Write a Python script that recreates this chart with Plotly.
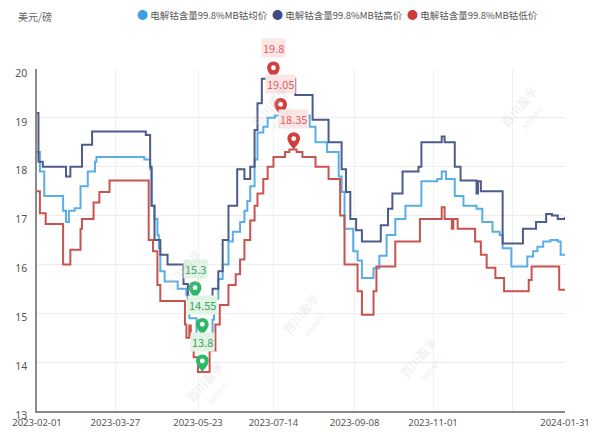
import plotly.graph_objects as go

# Electrolytic cobalt 99.8% MB price, USD/lb (step series: change dates and new values)
HIGH_DATES = ["2023-02-01", "2023-02-02", "2023-02-05", "2023-02-21", "2023-02-24", "2023-03-04",
              "2023-03-11", "2023-04-17", "2023-04-20", "2023-04-21", "2023-04-23", "2023-04-27",
              "2023-05-02", "2023-05-13", "2023-05-16", "2023-06-02", "2023-06-06", "2023-06-09",
              "2023-06-13", "2023-06-19", "2023-06-24", "2023-06-28", "2023-07-01", "2023-07-03",
              "2023-07-06", "2023-07-29", "2023-08-10", "2023-08-21", "2023-08-30", "2023-09-02",
              "2023-09-05", "2023-09-09", "2023-09-13", "2023-09-26", "2023-10-01", "2023-10-04",
              "2023-10-11", "2023-10-22", "2023-10-24", "2023-11-07", "2023-11-09", "2023-11-16",
              "2023-11-20", "2023-12-01", "2023-12-02", "2023-12-04", "2023-12-19", "2024-01-02",
              "2024-01-11", "2024-01-18", "2024-01-22", "2024-01-26", "2024-01-31"]
HIGH_VALUES = [19.1, 18.1, 18.0, 17.8, 18.0, 18.45,
               18.72, 18.65, 18.0, 17.2, 16.5, 16.2,
               16.0, 15.6, 15.3, 15.5, 15.86, 16.5,
               17.2, 17.95, 17.75, 18.0, 18.75, 19.3,
               19.8, 19.47, 18.96, 18.5, 17.95, 17.48,
               16.93, 16.7, 16.47, 16.8, 17.14, 17.45,
               17.9, 18.0, 18.5, 18.62, 18.5, 18.0,
               17.72, 17.45, 17.7, 17.5, 16.43, 16.73,
               16.87, 17.03, 17.0, 16.93, 16.97]

MEAN_DATES = ["2023-02-01", "2023-02-03", "2023-02-06", "2023-02-19", "2023-02-21", "2023-02-23",
              "2023-02-27", "2023-03-03", "2023-03-08", "2023-03-13", "2023-03-14", "2023-04-16",
              "2023-04-20", "2023-04-21", "2023-04-23", "2023-04-25", "2023-04-26", "2023-04-27",
              "2023-04-30", "2023-05-09", "2023-05-15", "2023-05-17", "2023-05-22", "2023-06-02",
              "2023-06-03", "2023-06-04", "2023-06-06", "2023-06-09", "2023-06-13", "2023-06-16",
              "2023-06-21", "2023-06-24", "2023-06-26", "2023-06-28", "2023-07-01", "2023-07-03",
              "2023-07-07", "2023-07-10", "2023-07-15", "2023-08-08", "2023-08-12", "2023-08-20",
              "2023-08-28", "2023-08-30", "2023-09-01", "2023-09-07", "2023-09-10", "2023-09-13",
              "2023-09-21", "2023-09-25", "2023-09-30", "2023-10-06", "2023-10-13", "2023-10-24",
              "2023-11-04", "2023-11-07", "2023-11-10", "2023-11-16", "2023-11-22", "2023-12-01",
              "2023-12-05", "2023-12-12", "2023-12-17", "2023-12-19", "2023-12-25", "2024-01-05",
              "2024-01-09", "2024-01-12", "2024-01-16", "2024-01-21", "2024-01-26", "2024-01-28",
              "2024-01-31"]
MEAN_VALUES = [18.3, 17.9, 17.4, 17.1, 16.87, 17.1,
               17.15, 17.6, 17.9, 18.1, 18.2, 18.15,
               17.95, 17.2, 16.93, 16.6, 16.33, 15.86,
               15.65, 15.5, 15.37, 14.9, 14.55, 14.87,
               15.0, 15.3, 15.7, 16.0, 16.47, 16.67,
               16.87, 17.1, 17.3, 17.6, 18.15, 18.7,
               18.82, 19.0, 19.05, 18.82, 18.5, 18.3,
               17.8, 17.48, 16.73, 16.27, 16.08, 15.72,
               15.92, 16.18, 16.6, 16.93, 17.2, 17.7,
               17.75, 17.9, 17.75, 17.4, 17.2, 17.14,
               16.87, 16.67, 16.6, 16.33, 15.96, 16.16,
               16.27, 16.36, 16.47, 16.5, 16.47, 16.2,
               16.2]

LOW_DATES = ["2023-02-01", "2023-02-03", "2023-02-07", "2023-02-19", "2023-02-24", "2023-03-03",
             "2023-03-04", "2023-03-12", "2023-03-16", "2023-03-23", "2023-04-19", "2023-04-22",
             "2023-04-25", "2023-04-27", "2023-05-14", "2023-05-15", "2023-05-17", "2023-05-18",
             "2023-05-20", "2023-05-23", "2023-05-31", "2023-06-04", "2023-06-07", "2023-06-13",
             "2023-06-18", "2023-06-21", "2023-06-24", "2023-06-28", "2023-07-01", "2023-07-03",
             "2023-07-07", "2023-07-10", "2023-07-14", "2023-07-22", "2023-07-25", "2023-07-30",
             "2023-08-03", "2023-08-12", "2023-08-21", "2023-08-29", "2023-09-01", "2023-09-10",
             "2023-09-13", "2023-09-21", "2023-09-23", "2023-10-06", "2023-10-23", "2023-11-07",
             "2023-11-09", "2023-11-14", "2023-11-15", "2023-11-18", "2023-11-30", "2023-12-04",
             "2023-12-08", "2023-12-14", "2023-12-20", "2024-01-06", "2024-01-08", "2024-01-27",
             "2024-01-31"]
LOW_VALUES = [17.5, 17.05, 16.83, 16.0, 16.3, 16.73,
              16.93, 17.27, 17.48, 17.72, 16.5, 16.27,
              15.58, 15.25, 14.77, 14.5, 14.75, 14.55,
              14.1, 13.8, 14.24, 14.77, 15.17, 15.58,
              15.8, 16.1, 16.5, 16.9, 17.2, 17.45,
              17.75, 18.0, 18.2, 18.3, 18.35, 18.3,
              18.2, 18.0, 17.75, 17.0, 16.0, 15.45,
              14.97, 15.45, 15.96, 16.47, 16.93, 17.17,
              16.93, 16.73, 16.93, 16.73, 16.47, 16.2,
              15.93, 15.72, 15.45, 15.68, 15.96, 15.48,
              15.48]

SERIES_NAMES = ["电解钴含量99.8%MB钴均价", "电解钴含量99.8%MB钴高价", "电解钴含量99.8%MB钴低价"]

# dates at which the max / min pins are placed (mean, high, low)
MAX_PIN_DATES = ["2023-07-19", "2023-07-14", "2023-07-28"]
MIN_PIN_DATES = ["2023-05-26", "2023-05-21", "2023-05-26"]

X_TICKS = ["2023-02-01", "2023-03-27", "2023-05-23", "2023-07-14", "2023-09-08",
           "2023-11-01", "2023-12-26", "2024-01-31"]
X_TICK_TEXT = ["2023-02-01", "2023-03-27", "2023-05-23", "2023-07-14", "2023-09-08",
               "2023-11-01", "", "2024-01-31"]
Y_TICKS = [13, 14, 15, 16, 17, 18, 19, 20]
Y_MIN, Y_MAX = 13, 20

LINE_COLORS = ["#5aaee6", "#4e5b8c", "#c9534f"]
DOT_COLORS = ["#3d9fe0", "#3c4a86", "#cc3a3a"]

FONT = "Noto Sans CJK SC, Noto Sans, sans-serif"
NUM_FONT = "Noto Sans, DejaVu Sans, sans-serif"

W, H = 595, 432
M_L, M_R, M_T, M_B = 37, 30, 69, 21
PLOT_W = W - M_L - M_R

series = [(MEAN_DATES, MEAN_VALUES), (HIGH_DATES, HIGH_VALUES), (LOW_DATES, LOW_VALUES)]

fig = go.Figure()

for (dates, vals), color, name in zip(series, LINE_COLORS, SERIES_NAMES):
    fig.add_trace(go.Scatter(x=dates, y=vals, mode="lines", line_shape="hv", name=name,
                             line=dict(color=color, width=2), showlegend=False))


def yfrac(v):
    return (v - Y_MIN) / (Y_MAX - Y_MIN)


def pin_shapes(date, value, color):
    r = 6.3
    c = 11.0
    k = 0.5523 * r
    path = (f"M 0 0 C -2 3, {-r} {c - 4}, {-r} {c} "
            f"C {-r} {c + k}, {-k} {c + r}, 0 {c + r} "
            f"C {k} {c + r}, {r} {c + k}, {r} {c} "
            f"C {r} {c - 4}, 2 3, 0 0 Z")
    common = dict(xref="x", yref="paper", xsizemode="pixel", ysizemode="pixel",
                  xanchor=date, yanchor=yfrac(value), line=dict(width=0), layer="above")
    head = dict(type="path", path=path, fillcolor=color, **common)
    dot = dict(type="circle", x0=-2.4, x1=2.4, y0=c - 2.4, y1=c + 2.4,
               fillcolor="white", **common)
    return [head, dot]


shapes = []
annotations = []
for (dates, vals), d in zip(series, MAX_PIN_DATES):
    v = max(vals)
    shapes += pin_shapes(d, v, "#d23f3f")
    annotations.append(dict(x=d, y=v, xref="x", yref="y", text=f"{v:g}", showarrow=False,
                            yshift=31, font=dict(size=11, color="#e0605c", family=FONT),
                            bgcolor="#fbe6e6", borderpad=1))
for (dates, vals), d in zip(series, MIN_PIN_DATES):
    v = min(vals)
    shapes += pin_shapes(d, v, "#2fb768")
    annotations.append(dict(x=d, y=v, xref="x", yref="y", text=f"{v:g}", showarrow=False,
                            yshift=30, font=dict(size=11, color="#3aa35a", family=FONT),
                            bgcolor="#e2f4e5", borderpad=1))

# legend row: coloured dot followed by series name
LEGEND_DOT_PX = [140, 275, 410]
for name, color, px in zip(SERIES_NAMES, DOT_COLORS, LEGEND_DOT_PX):
    annotations.append(dict(x=(px - 5 - M_L) / PLOT_W, y=1, xref="paper", yref="paper",
                            xanchor="left", yanchor="middle", yshift=M_T - 14, showarrow=False,
                            text=f"<span style='color:{color};font-size:11px'>●</span> {name}",
                            font=dict(size=9.5, color="#555555", family=FONT)))

# unit label above the value axis
annotations.append(dict(x=0, y=1, xref="paper", yref="paper", xanchor="center", yanchor="middle",
                        xshift=-2, yshift=M_T - 16, text="美元/磅", showarrow=False,
                        font=dict(size=10, color="#666666", family=FONT)))

# faint diagonal watermarks
for wx, wy in [(0.45, 0.97), (0.23, 0.40), (0.51, 0.18), (0.79, 0.05), (0.27, -0.02), (0.98, 0.97)]:
    annotations.append(dict(x=wx, y=wy, xref="paper", yref="paper", showarrow=False,
                            text="百川盈孚<br><span style='font-size:7px'>BAIINFO</span>",
                            textangle=-50, font=dict(size=12, color="rgba(200,200,200,0.35)",
                                                     family=FONT)))

fig.update_layout(
    width=W, height=H,
    margin=dict(l=M_L, r=M_R, t=M_T, b=M_B),
    paper_bgcolor="white", plot_bgcolor="white",
    font=dict(family=FONT, color="#555555"),
    showlegend=False,
    shapes=shapes,
    annotations=annotations,
    xaxis=dict(type="date", range=["2023-02-01", "2024-01-31"], automargin=False,
               tickvals=X_TICKS, ticktext=X_TICK_TEXT, tickangle=0,
               showgrid=True, gridcolor="#f0f0f0", gridwidth=1,
               showline=True, linecolor="#8a8a8a", linewidth=1.5,
               ticks="", ticklabelstandoff=2,
               tickfont=dict(size=9.5, color="#555555", family=NUM_FONT),
               zeroline=False),
    yaxis=dict(range=[Y_MIN, Y_MAX], tickvals=Y_TICKS, automargin=False,
               showgrid=True, gridcolor="#ededed", gridwidth=1,
               showline=True, linecolor="#8a8a8a", linewidth=1.5,
               ticks="", ticklabelstandoff=6, ticklabelshift=4,
               tickfont=dict(size=10.5, color="#555555", family=NUM_FONT),
               zeroline=False),
)

fig.write_html("out.html")
